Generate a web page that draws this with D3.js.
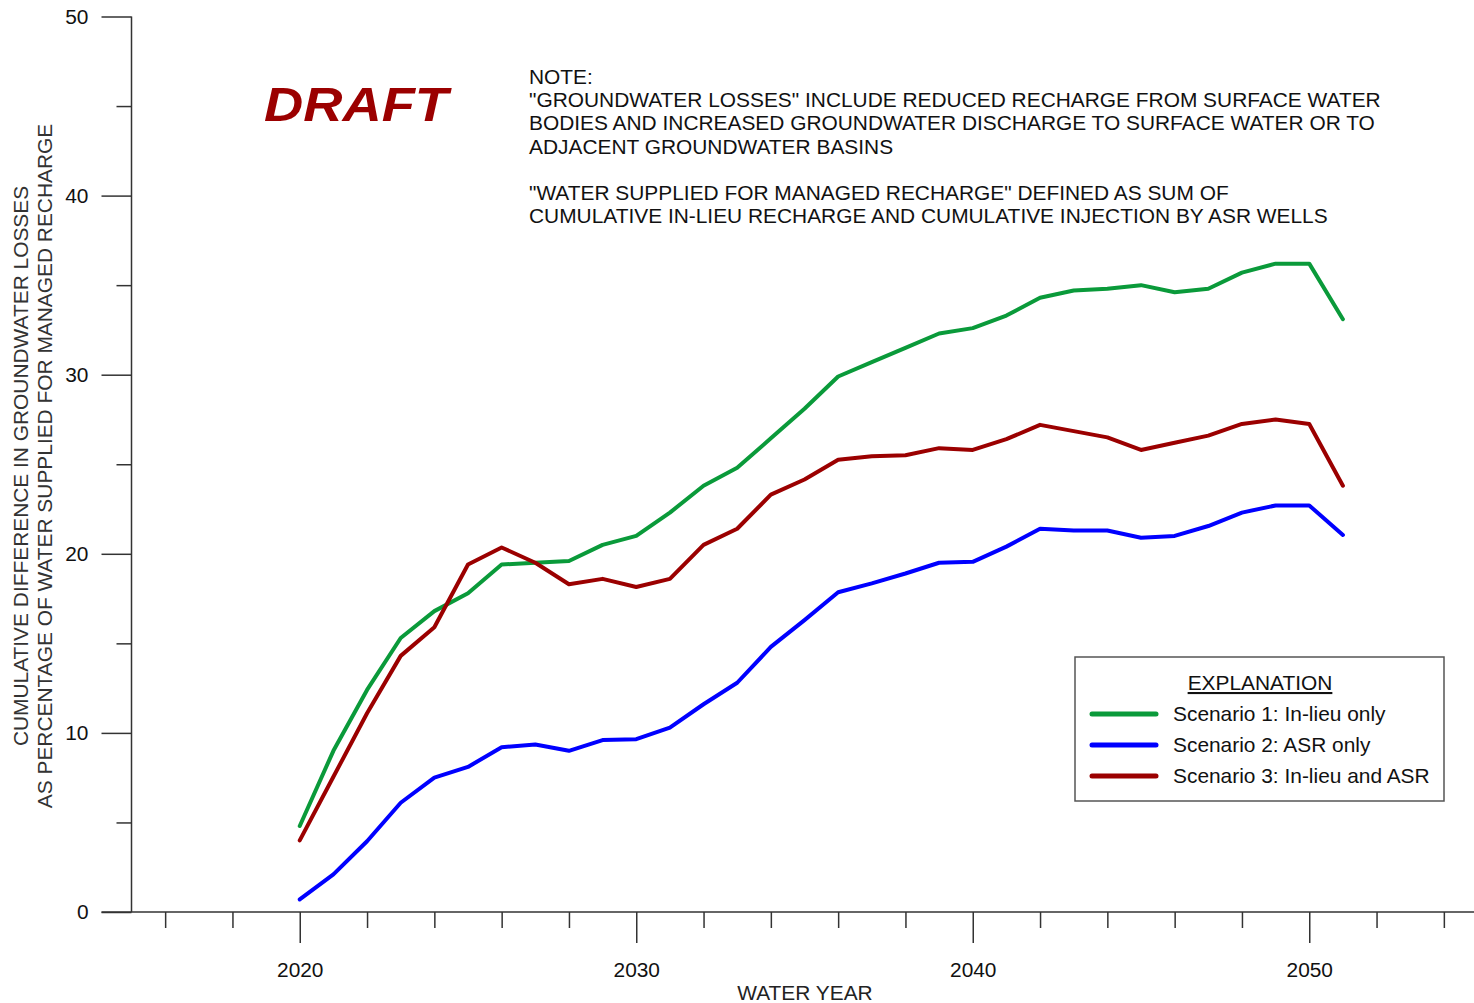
<!DOCTYPE html>
<html>
<head>
<meta charset="utf-8">
<script src="https://cdn.jsdelivr.net/npm/d3@7"></script>
<style>
  html, body { margin: 0; padding: 0; background: #fff; }
  svg { display: block; font-family: "Liberation Sans", Arial, sans-serif; }
</style>
</head>
<body>
<svg id="chart" width="1474" height="1003"></svg>
<script>
// Water years simulated
const years = d3.range(2020, 2052);

// Cumulative difference in groundwater losses, % of water supplied for managed recharge
const scenario1 = [4.8, 9.0, 12.4, 15.3, 16.8, 17.8, 19.4, 19.5, 19.6, 20.5,
  21.0, 22.3, 23.8, 24.8, 26.45, 28.1, 29.9, 30.7, 31.5, 32.3,
  32.6, 33.3, 34.3, 34.7, 34.8, 35.0, 34.6, 34.8, 35.7, 36.2,
  36.2, 33.1];
const scenario2 = [0.7, 2.1, 3.95, 6.1, 7.5, 8.1, 9.2, 9.35, 9.0, 9.6,
  9.65, 10.3, 11.6, 12.8, 14.8, 16.3, 17.85, 18.35, 18.9, 19.5,
  19.55, 20.4, 21.4, 21.3, 21.3, 20.9, 21.0, 21.55, 22.3, 22.7,
  22.7, 21.05];
const scenario3 = [4.0, 7.55, 11.1, 14.3, 15.9, 19.4, 20.35, 19.5, 18.3, 18.6,
  18.15, 18.6, 20.5, 21.4, 23.3, 24.15, 25.25, 25.45, 25.5, 25.9,
  25.8, 26.4, 27.2, 26.85, 26.5, 25.8, 26.2, 26.6, 27.25, 27.5,
  27.25, 23.8];

const seriesNames = ["Scenario 1: In-lieu only", "Scenario 2: ASR only", "Scenario 3: In-lieu and ASR"];
const seriesColors = ["#0a9a3a", "#0000ff", "#9b0000"];
const seriesValues = [scenario1, scenario2, scenario3];

const yTicksMajor = [0, 10, 20, 30, 40, 50];
const yTicksMinor = [5, 15, 25, 35, 45];
const xTicksMajor = [2020, 2030, 2040, 2050];
const xTicksMinor = d3.range(2016, 2056, 2).filter(d => d % 10 !== 0);

const noteLines = [
  "NOTE:",
  "\"GROUNDWATER LOSSES\" INCLUDE REDUCED RECHARGE FROM SURFACE WATER",
  "BODIES AND INCREASED GROUNDWATER DISCHARGE TO SURFACE WATER OR TO",
  "ADJACENT GROUNDWATER BASINS",
  "",
  "\"WATER SUPPLIED FOR MANAGED RECHARGE\" DEFINED AS SUM OF",
  "CUMULATIVE IN-LIEU RECHARGE AND CUMULATIVE INJECTION BY ASR WELLS"
];

const svg = d3.select("#chart");
const axisColor = "#333";
const fs = "20.9px";

const x = d3.scaleLinear().domain([2015, 2055]).range([131.5, 1477.5]);
const y = d3.scaleLinear().domain([0, 50]).range([912, 16.5]);

// Y axis: major ticks (long, labelled) and minor ticks (short)
const yAxisMajor = d3.axisLeft(y).tickValues(yTicksMajor).tickSize(30).tickPadding(13).tickFormat(d3.format("d"));
const yAxisMinor = d3.axisLeft(y).tickValues(yTicksMinor).tickSize(15).tickFormat("");

const gy = svg.append("g").attr("transform", "translate(131.5,0)");
gy.call(yAxisMajor);
gy.append("g").call(yAxisMinor);
gy.selectAll(".domain").remove();
gy.append("line").attr("x1", 0).attr("x2", 0).attr("y1", y(50)).attr("y2", y(0))
  .attr("stroke", axisColor).attr("stroke-width", 1.5);

// X axis: major ticks every 10 years, minor every 2 years
const xAxisMajor = d3.axisBottom(x).tickValues(xTicksMajor).tickSize(31).tickPadding(19).tickFormat(d3.format("d"));
const xAxisMinor = d3.axisBottom(x).tickValues(xTicksMinor).tickSize(16).tickFormat("");

const gx = svg.append("g").attr("transform", "translate(0,912)");
gx.call(xAxisMajor);
gx.append("g").call(xAxisMinor);
gx.selectAll(".domain").remove();
gx.append("line").attr("x1", 101.5).attr("x2", 1474).attr("y1", 0).attr("y2", 0)
  .attr("stroke", axisColor).attr("stroke-width", 1.5);

svg.selectAll(".tick line").attr("stroke", axisColor).attr("stroke-width", 1.5);
svg.selectAll(".tick text").attr("fill", "#111").style("font-size", fs)
  .style("font-family", "'Liberation Sans', Arial, sans-serif");

// Axis titles
svg.append("text").attr("x", 805).attr("y", 1000).attr("text-anchor", "middle")
  .attr("fill", "#222").style("font-size", fs).text("WATER YEAR");

const yTitle = svg.append("g").attr("transform", "translate(0,466) rotate(-90)");
yTitle.append("text").attr("x", 0).attr("y", 28).attr("text-anchor", "middle")
  .attr("fill", "#333").style("font-size", fs).text("CUMULATIVE DIFFERENCE IN GROUNDWATER LOSSES");
yTitle.append("text").attr("x", 0).attr("y", 52).attr("text-anchor", "middle")
  .attr("fill", "#333").style("font-size", fs).text("AS PERCENTAGE OF WATER SUPPLIED FOR MANAGED RECHARGE");

// Series lines
const line = d3.line().x((d, i) => x(years[i])).y(d => y(d));
svg.append("g").selectAll("path").data(seriesValues).join("path")
  .attr("d", line)
  .attr("fill", "none")
  .attr("stroke", (d, i) => seriesColors[i])
  .attr("stroke-width", 4)
  .attr("stroke-linejoin", "round")
  .attr("stroke-linecap", "round");

// DRAFT stamp
svg.append("text").attr("x", 264).attr("y", 121)
  .attr("fill", "#9b0000").style("font-size", "49px").style("font-weight", "bold").style("font-style", "italic")
  .attr("textLength", 184).attr("lengthAdjust", "spacingAndGlyphs")
  .text("DRAFT");

// Note block
svg.append("g").selectAll("text").data(noteLines).join("text")
  .attr("x", 529).attr("y", (d, i) => 84 + i * 23.2)
  .attr("fill", "#111").style("font-size", fs)
  .text(d => d);

// Legend
const lg = svg.append("g").attr("transform", "translate(1075,657)");
lg.append("rect").attr("x", 0).attr("y", 0).attr("width", 369).attr("height", 144)
  .attr("fill", "#fff").attr("stroke", "#555").attr("stroke-width", 1.5);
lg.append("text").attr("x", 185).attr("y", 33).attr("text-anchor", "middle")
  .attr("fill", "#111").style("font-size", fs).style("text-decoration", "underline")
  .text("EXPLANATION");
const items = lg.selectAll("g.item").data(seriesNames).join("g").attr("class", "item")
  .attr("transform", (d, i) => `translate(0,${57 + i * 31})`);
items.append("line").attr("x1", 17).attr("x2", 81).attr("y1", 0).attr("y2", 0)
  .attr("stroke", (d, i) => seriesColors[i]).attr("stroke-width", 5).attr("stroke-linecap", "round");
items.append("text").attr("x", 98).attr("y", 7)
  .attr("fill", "#111").style("font-size", fs).text(d => d);
</script>
</body>
</html>
